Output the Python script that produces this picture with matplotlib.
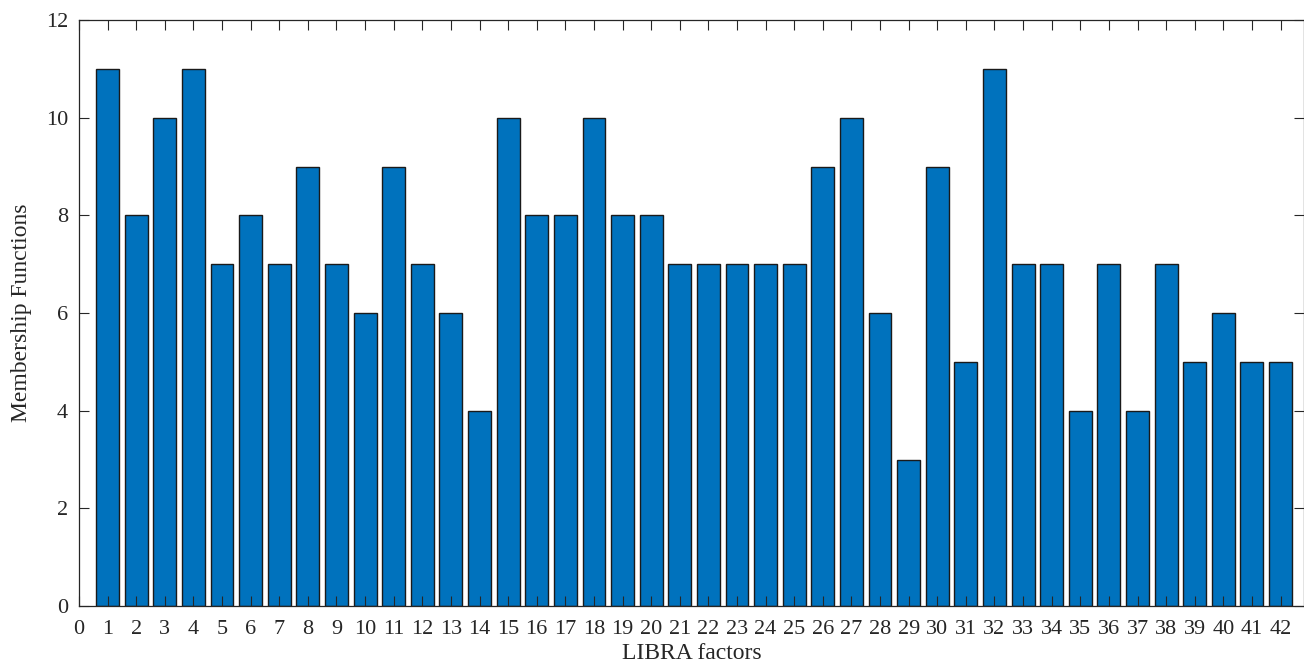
import matplotlib
matplotlib.use("Agg")
import matplotlib.pyplot as plt
import numpy as np

factors = list(range(1, 43))
membership = [11, 8, 10, 11, 7, 8, 7, 9, 7, 6, 9, 7, 6, 4, 10, 8, 8, 10, 8, 8,
              7, 7, 7, 7, 7, 9, 10, 6, 3, 9, 5, 11, 7, 7, 4, 7, 4, 7, 5, 6, 5, 5]
xticks = list(range(0, 43))
yticks = [0, 2, 4, 6, 8, 10, 12]

plt.rcParams['font.family'] = ['Liberation Serif', 'DejaVu Serif']

fig = plt.figure(figsize=(13.04, 6.64), dpi=100)
ax = fig.add_axes([79/1304, 1 - 606/664, (1304 - 79)/1304, (606 - 20)/664])
ax.bar(factors, membership, width=0.8, color='#0072BD', edgecolor='#1a1a1a', linewidth=1.0)
ax.set_xlim(0, 42.82)
ax.set_ylim(0, 12)
ax.set_xticks(xticks)
ax.set_yticks(yticks)
ax.tick_params(direction='in', top=True, right=True, labelsize=16, length=7,
               color='#262626', labelcolor='#262626')
ax.tick_params(axis='x', pad=10)
ax.tick_params(axis='y', pad=8)
for s in ax.spines.values():
    s.set_color('#262626')
    s.set_linewidth(0.9)
ax.set_xlabel('LIBRA factors', fontsize=17, color='#262626', labelpad=3)
ax.set_ylabel('Membership Functions', fontsize=17, color='#262626', labelpad=10)
fig.savefig('out.png', dpi=100)
